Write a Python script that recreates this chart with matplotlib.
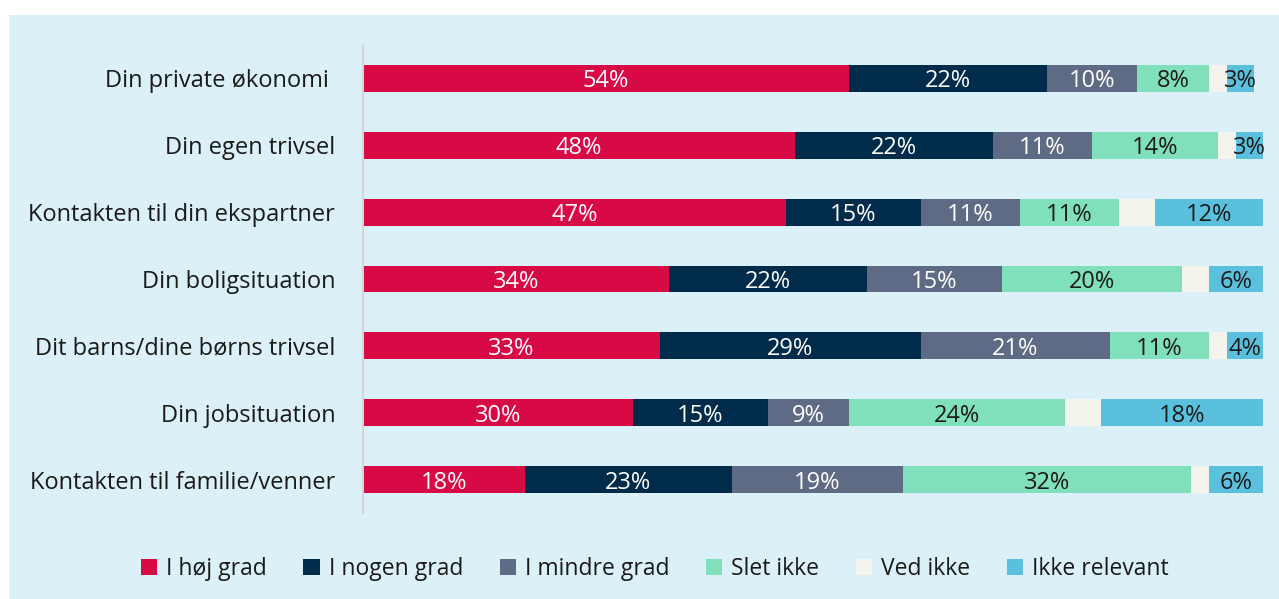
import matplotlib.pyplot as plt
from matplotlib.patches import Patch, Rectangle

plt.rcParams['font.family'] = ['Open Sans', 'DejaVu Sans']

categories = [
    "Din private økonomi ",
    "Din egen trivsel",
    "Kontakten til din ekspartner",
    "Din boligsituation",
    "Dit barns/dine børns trivsel",
    "Din jobsituation",
    "Kontakten til familie/venner",
]
series_names = ["I høj grad", "I nogen grad", "I mindre grad", "Slet ikke", "Ved ikke", "Ikke relevant"]
hoej = [54, 48, 47, 34, 33, 30, 18]
nogen = [22, 22, 15, 22, 29, 15, 23]
mindre = [10, 11, 11, 15, 21, 9, 19]
slet_ikke = [8, 14, 11, 20, 11, 24, 32]
ved_ikke = [2, 2, 4, 3, 2, 4, 2]
ikke_relevant = [3, 3, 12, 6, 4, 18, 6]

series = [hoej, nogen, mindre, slet_ikke, ved_ikke, ikke_relevant]
colors = ['#d80a46', '#002b4a', '#5f6b85', '#80e0bb', '#f4f4ec', '#5bc0de']
text_colors = ['white', 'white', 'white', '#1a1a1a', None, '#1a1a1a']

fig = plt.figure(figsize=(12.79, 5.99), dpi=100)
fig.patch.set_facecolor('white')
bg = Rectangle((9 / 1279, 0), 1 - 9 / 1279, 1 - 15 / 599,
               transform=fig.transFigure, facecolor='#dcf0f7',
               edgecolor='none', zorder=-10)
fig.patches.append(bg)

ax = fig.add_axes([363 / 1279, (599 - 513) / 599, 900 / 1279, 468 / 599])
ax.set_facecolor('none')
ax.set_zorder(5)

y = list(range(len(categories)))
left = [0] * len(categories)
for vals, col, tcol in zip(series, colors, text_colors):
    ax.barh(y, vals, left=left, height=0.40, color=col, edgecolor='none')
    if tcol is not None:
        for i, v in enumerate(vals):
            ax.text(left[i] + v / 2, i + 0.045, f"{v}%", ha='center', va='center',
                    color=tcol, fontsize=17)
    left = [l + v for l, v in zip(left, vals)]

ax.set_xlim(0, 100)
ax.set_ylim(6.5, -0.5)
ax.set_yticks(y)
ax.set_yticklabels(categories, fontsize=17, color='#1a1a1a')
ax.tick_params(axis='y', length=0, pad=20)
ax.set_xticks([])
for s in ['top', 'right', 'bottom']:
    ax.spines[s].set_visible(False)
ax.spines['left'].set_color('#d4d4d4')
ax.spines['left'].set_linewidth(1.5)

handles = [Patch(facecolor=c, edgecolor='none') for c in colors]
fig.legend(handles, series_names, loc='center', bbox_to_anchor=(0.512, 0.050),
           ncol=6, frameon=False, fontsize=16.5, handlelength=0.7, handleheight=0.7,
           handletextpad=0.4, columnspacing=1.6, labelcolor='#1a1a1a')

fig.savefig('out.png', dpi=100)
